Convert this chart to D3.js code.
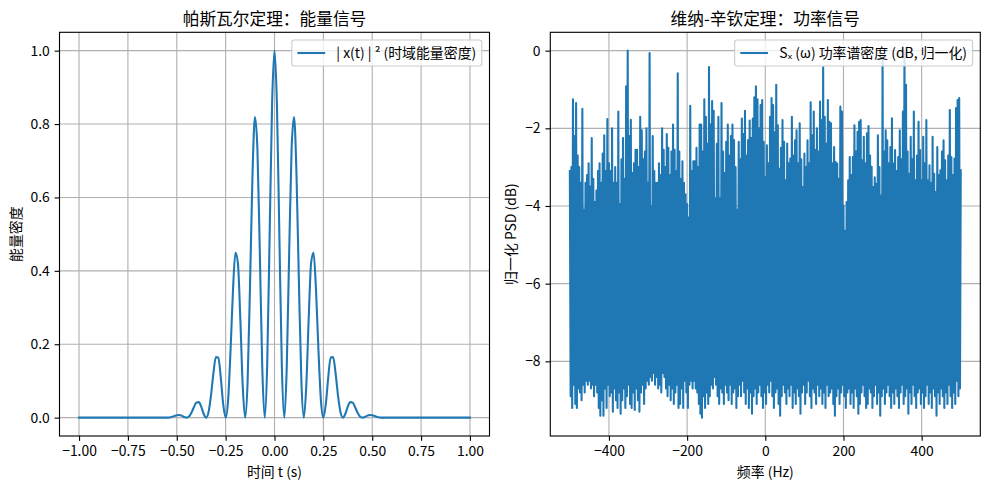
<!DOCTYPE html>
<html>
<head>
<meta charset="utf-8">
<script src="https://cdn.jsdelivr.net/npm/d3@7"></script>
<style>
  html, body { margin: 0; padding: 0; background: #fff; }
  svg { display: block; font-family: "Noto Sans CJK SC", "Noto Sans", sans-serif; }
</style>
</head>
<body>
<svg id="chart" width="990" height="490"></svg>
<script>
// ---------- data ----------
const leftTitle = "帕斯瓦尔定理：能量信号";
const rightTitle = "维纳-辛钦定理：功率信号";
const leftXLabel = "时间 t (s)";
const leftYLabel = "能量密度";
const rightXLabel = "频率 (Hz)";
const rightYLabel = "归一化 PSD (dB)";
const leftLegend = "| x(t) | ² (时域能量密度)";
const rightLegend = "Sₓ (ω) 功率谱密度 (dB, 归一化)";

const leftXTicks = [-1.0, -0.75, -0.5, -0.25, 0, 0.25, 0.5, 0.75, 1.0];
const leftYTicks = [0, 0.2, 0.4, 0.6, 0.8, 1.0];
const rightXTicks = [-400, -200, 0, 200, 400];
const rightYTicks = [-8, -6, -4, -2, 0];

const energyStart = -0.55, energyStep = 0.0125;
const energyValues = [
  0, 0.0005, 0.0020, 0.0045, 0.0067, 0.0073, 0.0055, 0.0020, 0, 0.0032,
  0.0135, 0.0284, 0.0408, 0.0424, 0.030, 0.0105, 0, 0.015, 0.060, 0.121,
  0.165, 0.164, 0.110, 0.037, 0, 0.047, 0.182, 0.346, 0.449, 0.423,
  0.271, 0.086, 0, 0.100, 0.366, 0.663, 0.819, 0.733, 0.447, 0.135,
  0, 0.142, 0.494, 0.851,
  1.000,
  0.851, 0.494, 0.142, 0, 0.135, 0.447, 0.733, 0.819, 0.663, 0.366,
  0.100, 0, 0.086, 0.271, 0.423, 0.449, 0.346, 0.182, 0.047, 0,
  0.037, 0.110, 0.164, 0.165, 0.121, 0.060, 0.015, 0, 0.0105, 0.030,
  0.0424, 0.0408, 0.0284, 0.0135, 0.0032, 0, 0.0020, 0.0055, 0.0073, 0.0067,
  0.0045, 0.0020, 0.0005, 0
];
const energyTailTimes = [-1.0, 1.0];
const energyTailValues = [0, 0];

// PSD (dB): spike tops at f = -500, -496, ... , 500 Hz
const psdPeaks = [
  -3.1,-3.0,-1.25,-2.2,-1.35,-2.7,-3.0,-3.4,-1.5,-4.1,
  -3.4,-3.2,-2.9,-3.5,-2.25,-3.3,-3.9,-3.6,-3.1,-2.9,
  -3.4,-2.65,-2.18,-3.1,-1.76,-2.9,-3.1,-2.0,-3.4,-3.0,
  -3.4,-1.57,-3.95,-2.8,-2.25,-3.3,-0.92,0,-2.2,-1.78,
  -3.15,-2.9,-2.55,-2.55,-3.0,-1.7,-2.05,-2.8,-2.6,-2.0,
  -3.4,-0.06,-4.0,-2.2,-3.1,-3.4,-3.4,-2.9,-3.2,-2.0,
  -2.55,-3.0,-2.15,-2.5,-3.2,-2.6,-1.9,-2.55,-3.1,-0.58,
  -2.6,-3.3,-2.85,-3.4,-3.7,-3.95,-4.3,-1.42,-3.1,-2.85,
  -2.85,-2.5,-3.0,-1.9,-1.9,-2.6,-1.25,-1.7,-2.4,-0.42,
  -1.9,-1.3,-1.55,-3.8,-2.4,-1.7,-3.8,-1.35,-2.6,-3.15,
  -2.35,-1.9,-2.7,-2.2,-1.9,-2.3,-3.0,-4.1,-2.35,-2.8,
  -1.75,-2.15,-1.55,-2.7,-2.3,-1.8,-2.25,-1.75,-1.2,-0.92,
  -1.25,-2.0,-1.4,-1.27,-2.35,-3.26,-2.44,-2.9,-1.7,-1.22,
  -1.4,-2.1,-0.88,-1.92,-3.04,-2.5,-1.79,-2.35,-3.34,-2.39,
  -2.9,-2.78,-1.7,-2.7,-2.31,-2.05,-2.9,-1.87,-2.8,-3.51,
  -2.65,-3.0,-2.31,-2.9,-1.33,-2.18,-1.57,-2.56,-2.0,-2.6,
  -1.31,-1.79,-0.43,-1.7,-2.4,-1.27,-1.83,-1.87,-2.9,-2.48,
  -2.87,-2.91,-3.3,-1.44,-1.57,-3.99,-4.64,-3.9,-3.34,-2.74,
  -3.2,-2.74,-1.92,-2.6,-2.09,-1.83,-1.79,-2.82,-2.22,-2.9,
  -2.13,-1.94,-2.7,-2.99,-3.51,-3.26,-3.43,-2.18,-3.0,-3.73,
  -0.15,-2.6,-2.05,-2.31,-2.9,-2.48,-1.74,-2.91,-2.56,-3.1,
  -2.74,-2.05,-2.8,-1.57,-0.05,-0.88,-2.6,-3.17,-2.22,-2.8,
  -1.57,-3.34,-2.7,-1.83,-2.56,-3.34,-2.22,-2.9,-1.79,-3.34,
  -2.95,-3.4,-2.22,-3.17,-3.64,-2.48,-3.2,-3.08,-2.6,-2.31,
  -2.82,-3.34,-2.7,-1.53,-2.74,-3.2,-2.78,-1.48,-1.27,-1.22,
  -3.08
];
// PSD (dB): troughs at f = -498, -494, ... , 498 Hz
const psdTroughs = [
  -8.9,-9.2,-8.6,-9.1,-9.2,-8.7,-8.8,-9.0,-8.6,-8.8,
  -8.5,-8.6,-8.5,-8.7,-8.6,-8.9,-8.6,-8.8,-9.2,-9.4,
  -9.0,-9.4,-8.7,-9.2,-8.6,-8.9,-8.8,-9.3,-8.7,-9.0,
  -9.2,-8.8,-9.35,-9.0,-8.7,-9.2,-8.9,-8.6,-9.1,-9.2,
  -8.8,-9.25,-8.7,-9.0,-9.3,-8.8,-8.6,-9.1,-8.7,-8.5,
  -8.6,-8.4,-8.5,-8.3,-8.6,-8.4,-8.7,-8.6,-8.8,-8.3,
  -8.4,-8.7,-8.9,-8.6,-9.0,-8.7,-9.1,-8.8,-8.6,-9.2,
  -9.1,-8.7,-9.2,-8.5,-8.8,-9.2,-8.6,-8.5,-8.7,-8.5,
  -8.7,-8.8,-9.1,-9.35,-9.45,-8.9,-9.2,-8.8,-9.1,-8.9,
  -8.6,-8.7,-8.4,-8.6,-8.9,-9.1,-8.7,-8.8,-9.1,-8.6,
  -8.8,-9.0,-8.6,-9.1,-8.8,-8.7,-9.2,-8.9,-8.6,-8.9,
  -8.5,-8.8,-9.1,-8.7,-9.2,-8.8,-9.35,-8.9,-8.7,-9.1,
  -8.8,-8.6,-8.9,-9.2,-8.8,-9.1,-8.6,-8.8,-8.5,-8.9,
  -9.2,-8.8,-8.7,-9.1,-9.4,-8.9,-8.6,-8.8,-9.1,-8.7,
  -8.9,-8.6,-9.2,-8.8,-9.1,-8.7,-8.9,-9.35,-8.8,-8.6,
  -9.1,-8.8,-8.5,-8.9,-9.2,-8.7,-8.8,-9.1,-8.6,-8.9,
  -8.7,-9.1,-8.8,-9.2,-8.6,-8.9,-8.8,-8.7,-9.1,-9.4,
  -8.9,-8.7,-9.1,-8.8,-8.6,-8.9,-9.2,-8.8,-8.7,-9.1,
  -8.8,-9.2,-8.7,-8.9,-9.35,-9.1,-8.8,-8.6,-8.9,-9.2,
  -9.1,-8.7,-8.8,-9.2,-8.9,-8.6,-9.1,-8.8,-9.4,-8.9,
  -8.7,-9.1,-8.8,-8.6,-8.9,-9.2,-8.8,-9.1,-8.7,-8.9,
  -9.2,-8.8,-8.6,-9.1,-8.9,-8.7,-9.35,-8.8,-9.1,-8.6,
  -8.9,-9.2,-8.8,-8.7,-9.1,-8.8,-9.2,-8.9,-8.6,-9.1,
  -8.8,-9.2,-8.7,-8.9,-9.4,-8.8,-9.1,-8.7,-8.9,-9.2,
  -8.8,-9.1,-8.6,-8.9,-9.2,-8.8,-9.1,-8.5,-8.9,-8.7
];
const psdFreqStart = -500, psdFreqStep = 2;

// ---------- build series ----------
const energyData = [{t: energyTailTimes[0], v: energyTailValues[0]}]
  .concat(energyValues.map((v, i) => ({t: energyStart + i * energyStep, v})))
  .concat([{t: energyTailTimes[1], v: energyTailValues[1]}]);

const psdData = [];
for (let i = 0; i < psdPeaks.length; i++) {
  psdData.push({f: psdFreqStart + 2 * i * psdFreqStep, v: psdPeaks[i]});
  if (i < psdTroughs.length) psdData.push({f: psdFreqStart + (2 * i + 1) * psdFreqStep, v: psdTroughs[i]});
}

// ---------- drawing ----------
const svg = d3.select("#chart");
const BLUE = "#1f77b4";
const FS = 13.9;
const PT = 100 / 72;
const minus = s => s.replace(/-/g, "\u2212");

function pad(ext) { const r = ext[1] - ext[0]; return [ext[0] - 0.05 * r, ext[1] + 0.05 * r]; }

function panel(opt) {
  const {x0, x1, y0, y1} = opt;
  const g = svg.append("g");
  const xs = d3.scaleLinear().domain(opt.xDomain).range([x0, x1]);
  const ys = d3.scaleLinear().domain(opt.yDomain).range([y1, y0]);

  // grid
  g.append("g").selectAll("line").data(opt.xTicks).join("line")
    .attr("x1", d => xs(d)).attr("x2", d => xs(d)).attr("y1", y0).attr("y2", y1)
    .attr("stroke", "#b0b0b0").attr("stroke-width", 0.8 * PT);
  g.append("g").selectAll("line").data(opt.yTicks).join("line")
    .attr("y1", d => ys(d)).attr("y2", d => ys(d)).attr("x1", x0).attr("x2", x1)
    .attr("stroke", "#b0b0b0").attr("stroke-width", 0.8 * PT);

  // data
  const line = d3.line().x(d => xs(d[opt.xKey])).y(d => ys(d.v));
  if (opt.curve) line.curve(opt.curve);
  g.append("path").datum(opt.data).attr("d", line)
    .attr("fill", "none").attr("stroke", BLUE).attr("stroke-width", 1.5 * PT)
    .attr("stroke-linejoin", "round").attr("stroke-linecap", "square");

  // axes
  const xAxis = d3.axisBottom(xs).tickValues(opt.xTicks).tickSizeOuter(0).tickSize(3.5 * PT).tickPadding(3.5 * PT)
    .tickFormat(d => minus(opt.xFmt(d)));
  const yAxis = d3.axisLeft(ys).tickValues(opt.yTicks).tickSizeOuter(0).tickSize(3.5 * PT).tickPadding(3.5 * PT)
    .tickFormat(d => minus(opt.yFmt(d)));
  const gx = g.append("g").attr("transform", `translate(0,${y1})`).call(xAxis);
  const gy = g.append("g").attr("transform", `translate(${x0},0)`).call(yAxis);
  [gx, gy].forEach(a => {
    a.select(".domain").remove();
    a.selectAll(".tick line").attr("stroke", "#000").attr("stroke-width", 0.8 * PT);
    a.selectAll(".tick text").attr("font-size", FS).attr("fill", "#000")
      .attr("font-family", '"Noto Sans CJK SC", sans-serif');
  });

  // frame
  g.append("rect").attr("x", x0).attr("y", y0).attr("width", x1 - x0).attr("height", y1 - y0)
    .attr("fill", "none").attr("stroke", "#000").attr("stroke-width", 0.8 * PT);

  // title and labels
  g.append("text").attr("x", (x0 + x1) / 2).attr("y", 24.5).attr("text-anchor", "middle")
    .attr("font-size", 16.7).text(opt.title);
  g.append("text").attr("x", (x0 + x1) / 2).attr("y", 476.5).attr("text-anchor", "middle")
    .attr("font-size", FS).text(opt.xLabel);
  g.append("text").attr("transform", `translate(${opt.yLabelX},${(y0 + y1) / 2}) rotate(-90)`)
    .attr("text-anchor", "middle").attr("font-size", FS).text(opt.yLabel);

  // legend (upper right)
  const lg = g.append("g");
  const box = lg.append("rect");
  const txt = lg.append("text").attr("font-size", FS).text(opt.legend);
  const tw = txt.node().getComputedTextLength();
  const bp = 0.4 * FS, hl = 2.0 * FS, htp = 0.8 * FS;
  const bw = bp + hl + htp + tw + bp;
  const bx = x1 - 7.7 - bw, by = y0 + 7.7, bh = 26;
  box.attr("x", bx).attr("y", by).attr("width", bw).attr("height", bh)
    .attr("rx", 2.5).attr("fill", "#fff").attr("fill-opacity", 0.8)
    .attr("stroke", "#cccccc").attr("stroke-width", 0.8 * PT);
  lg.append("line").attr("x1", bx + bp).attr("x2", bx + bp + hl)
    .attr("y1", by + bh / 2).attr("y2", by + bh / 2)
    .attr("stroke", BLUE).attr("stroke-width", 1.5 * PT);
  txt.attr("x", bx + bp + hl + htp).attr("y", by + bh / 2 + 5);
}

panel({
  x0: 59.5, x1: 489.5, y0: 32.3, y1: 436,
  xDomain: pad([-1, 1]), yDomain: pad([0, 1]),
  xTicks: leftXTicks, yTicks: leftYTicks,
  xFmt: d3.format(".2f"), yFmt: d3.format(".1f"),
  data: energyData, xKey: "t", curve: d3.curveMonotoneX,
  title: leftTitle, xLabel: leftXLabel, yLabel: leftYLabel, yLabelX: 21,
  legend: leftLegend
});

panel({
  x0: 550.3, x1: 980.3, y0: 32.3, y1: 436,
  xDomain: pad([-500, 500]), yDomain: pad(d3.extent(psdData, d => d.v)),
  xTicks: rightXTicks, yTicks: rightYTicks,
  xFmt: d3.format("d"), yFmt: d3.format("d"),
  data: psdData, xKey: "f", curve: null,
  title: rightTitle, xLabel: rightXLabel, yLabel: rightYLabel, yLabelX: 516,
  legend: rightLegend
});
</script>
</body>
</html>
